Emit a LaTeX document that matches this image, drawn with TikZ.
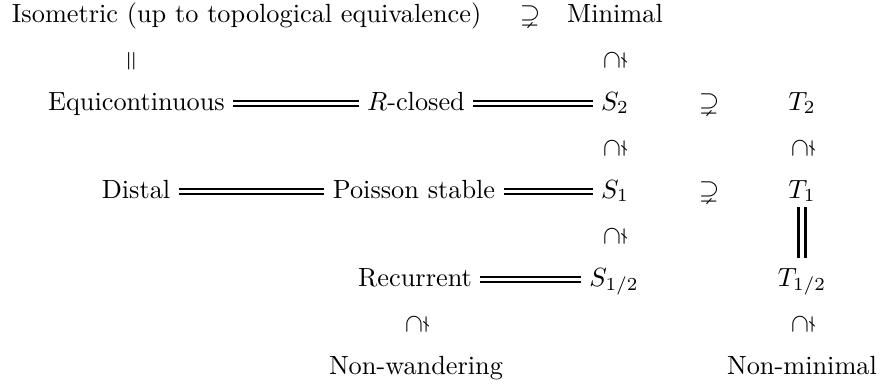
\documentclass[tikz,border=0pt]{standalone}
\usepackage{amssymb}
\usepackage{graphicx}
\begin{document}
\begin{tikzpicture}[x=0.3802pt, y=-0.3802pt,
  lbl/.style={inner sep=0pt, outer sep=0pt, text height=5pt, text depth=0pt, anchor=base},
  rel/.style={inner sep=0pt, outer sep=0pt},
  relb/.style={inner sep=0pt, outer sep=0pt, anchor=base},
  hdbl/.style={double, double distance=0.9pt, line width=0.85pt, shorten <=3.2pt, shorten >=3.2pt},
  vdbl/.style={double, double distance=1.5pt, line width=1.1pt}]
\useasboundingbox (0,0) rectangle (881,387);
% row 1
\node[lbl, anchor=base west] (iso) at (12,22) {Isometric (up to topological equivalence)};
\node[relb] (sup0) at (530,22) {$\supsetneq$};
\node[lbl] (minimal) at (615,22) {Minimal};
\node[rel] (eq0) at (133,61) {\rotatebox{90}{$=$}};
\node[rel] (cap0) at (615,60) {\rotatebox{90}{$\supsetneq$}};
% row 2
\node[lbl] (equi) at (136.5,110) {Equicontinuous};
\node[lbl] (rcl) at (416,110) {$R$-closed};
\node[lbl] (S2) at (615,110) {$S_2$};
\node[relb] (sup2) at (709,110) {$\supsetneq$};
\node[lbl] (T2) at (802,110) {$T_2$};
\node[rel] (capS2) at (615,148) {\rotatebox{90}{$\supsetneq$}};
\node[rel] (capT2) at (803,148) {\rotatebox{90}{$\supsetneq$}};
% row 3
\node[lbl] (distal) at (136,198) {Distal};
\node[lbl] (poisson) at (414,198) {Poisson stable};
\node[lbl] (S1) at (615,198) {$S_1$};
\node[relb] (sup1) at (709,198) {$\supsetneq$};
\node[lbl] (T1) at (802,198) {$T_1$};
\node[rel] (capS1) at (615,236) {\rotatebox{90}{$\supsetneq$}};
% row 4
\node[lbl] (rec) at (415,286) {Recurrent};
\node[lbl] (S12) at (614,286) {$S_{1/2}$};
\node[lbl] (T12) at (802,286) {$T_{1/2}$};
\node[rel] (capR) at (417,324) {\rotatebox{90}{$\supsetneq$}};
\node[rel] (capT12) at (803,324) {\rotatebox{90}{$\supsetneq$}};
% row 5
\node[lbl] (nw) at (416,374) {Non-wandering};
\node[lbl] (nm) at (802,374) {Non-minimal};
% connectors
\draw[hdbl] (equi) -- (rcl);
\draw[hdbl] (rcl) -- (S2);
\draw[hdbl] (distal) -- (poisson);
\draw[hdbl] (poisson) -- (S1);
\draw[hdbl] (rec) -- (S12);
\draw[vdbl, shorten <=3.4pt, shorten >=5.7pt] (T1.south) -- (T12.north);
\end{tikzpicture}
\end{document}
